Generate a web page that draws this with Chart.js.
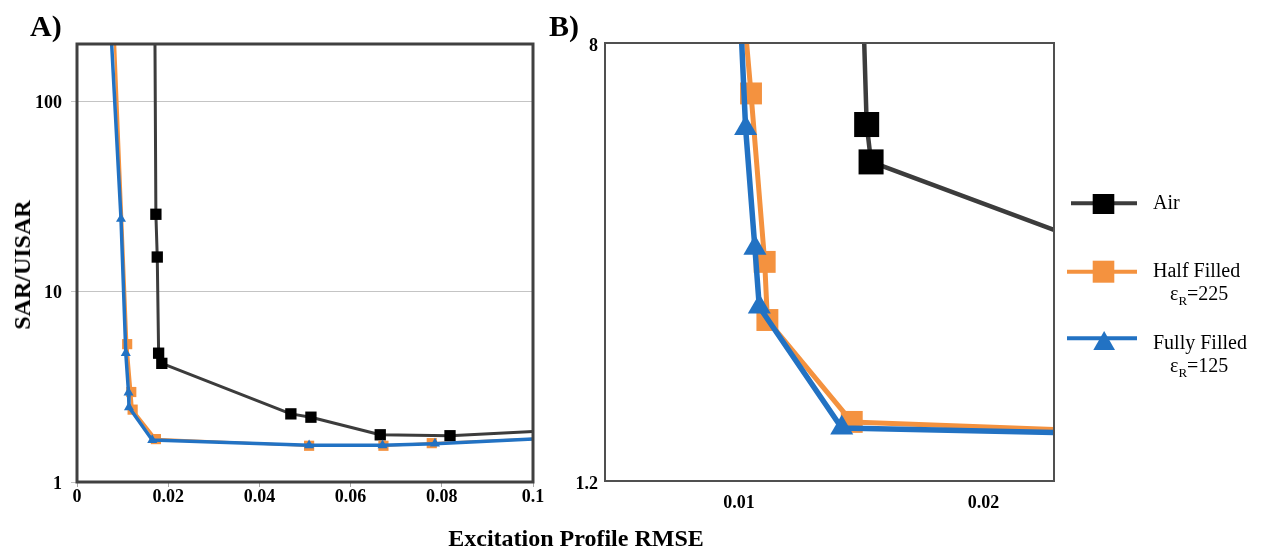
<!DOCTYPE html>
<html>
<head>
<meta charset="utf-8">
<script src="https://cdn.jsdelivr.net/npm/chart.js@4.4.0/dist/chart.umd.min.js"></script>
<style>
html,body{margin:0;padding:0;background:#fff;}
body{width:1266px;height:554px;position:relative;overflow:hidden;font-family:"Liberation Serif","Times New Roman",serif;color:#000;}
.abs{position:absolute;white-space:nowrap;line-height:1;}
.panel{font-size:30px;font-weight:bold;}
.leg{font-size:20px;line-height:20px;}
.leg sub{font-size:13px;vertical-align:baseline;position:relative;top:5px;}
canvas{position:absolute;top:0;}
</style>
</head>
<body>
<canvas id="cA" width="560" height="554" style="left:0px"></canvas>
<canvas id="cB" width="520" height="554" style="left:560px"></canvas>

<div class="abs panel" style="left:30px;top:11px;">A)</div>
<div class="abs panel" style="left:549px;top:11px;">B)</div>
<div class="abs" style="left:22px;top:265px;font-size:24px;font-weight:bold;transform:translate(-50%,-50%) rotate(-90deg);">SAR/UISAR</div>
<div class="abs" style="left:576px;top:526px;font-size:24px;font-weight:bold;transform:translateX(-50%);">Excitation Profile RMSE</div>

<svg class="abs" style="left:1064px;top:185px;" width="80" height="180" viewBox="0 0 80 180">
  <line x1="7" y1="18.3" x2="73" y2="18.3" stroke="#3c3c3c" stroke-width="4"/>
  <rect x="28.7" y="9" width="21.6" height="20" fill="#000"/>
  <line x1="3" y1="86.7" x2="73" y2="86.7" stroke="#f4923f" stroke-width="4"/>
  <rect x="28.7" y="75.7" width="21.6" height="22" fill="#f4923f"/>
  <line x1="3" y1="153.3" x2="73" y2="153.3" stroke="#2272c3" stroke-width="4"/>
  <polygon points="29.3,165 51,165 40.15,146" fill="#2272c3"/>
</svg>
<div class="abs leg" style="left:1153px;top:192px;">Air</div>
<div class="abs leg" style="left:1153px;top:260px;">Half Filled</div>
<div class="abs leg" style="left:1170px;top:283px;">ε<sub>R</sub>=225</div>
<div class="abs leg" style="left:1153px;top:332px;">Fully Filled</div>
<div class="abs leg" style="left:1170px;top:355px;">ε<sub>R</sub>=125</div>

<script>
// ---------- Panel A data (first/last point = where the line meets the frame) ----------
const airA_x  = [0.0171, 0.0173, 0.0176, 0.0179, 0.0186, 0.0469, 0.0513, 0.0665, 0.0818, 0.1];
const airA_y  = [200, 25.5, 15.2, 4.75, 4.2, 2.28, 2.19, 1.77, 1.75, 1.84];
const halfA_x = [0.00833, 0.0110, 0.0119, 0.0122, 0.0173, 0.0509, 0.0672, 0.0778, 0.1];
const halfA_y = [200, 5.3, 2.97, 2.4, 1.68, 1.55, 1.55, 1.60, 1.68];
const fullA_x = [0.0076, 0.00965, 0.0107, 0.0113, 0.0114, 0.0165, 0.0509, 0.0670, 0.0785, 0.1];
const fullA_y = [200, 24.1, 4.76, 2.95, 2.47, 1.66, 1.56, 1.56, 1.59, 1.68];
const xTicksA = [0, 0.02, 0.04, 0.06, 0.08, 0.1];
const xTickLabelsA = ['0', '0.02', '0.04', '0.06', '0.08', '0.1'];
const yTicksA = [1, 10, 100];
const yTickLabelsA = ['1', '10', '100'];

// ---------- Panel B data (zoomed view) ----------
const airB_x  = [0.01512, 0.01522, 0.01540, 0.02288];
const airB_y  = [8, 5.62, 4.78, 3.56];
const halfB_x = [0.01031, 0.01049, 0.01105, 0.01116, 0.01461, 0.02288];
const halfB_y = [8, 6.43, 3.10, 2.41, 1.55, 1.50];
const fullB_x = [0.01011, 0.01027, 0.01065, 0.01083, 0.01420, 0.02288];
const fullB_y = [8, 5.53, 3.29, 2.55, 1.51, 1.48];
const xTicksB = [0.01, 0.02];
const xTickLabelsB = ['0.01', '0.02'];
const yTicksB = [1.2, 8];
const yTickLabelsB = ['1.2', '8'];

const AIR = '#000000', AIR_LINE = '#3c3c3c', HALF = '#f4923f', FULL = '#2272c3';
const FONT = {family: '"Liberation Serif", "Times New Roman", serif', size: 18, weight: 'bold'};

function pts(xs, ys) { return xs.map((x, i) => ({x: x, y: ys[i]})); }
function ds(label, xs, ys, fill, line, width, style, r, order) {
  const n = xs.length;
  return {
    label: label, data: pts(xs, ys), borderColor: line, backgroundColor: fill,
    borderWidth: width, pointStyle: style,
    pointRadius: c => (c.dataIndex === 0 || c.dataIndex === n - 1) ? 0 : r,
    pointHoverRadius: 0, pointBackgroundColor: fill, pointBorderWidth: 0,
    tension: 0, order: order, borderJoinStyle: 'round', borderCapStyle: 'round'
  };
}
const frame = {
  id: 'frame',
  afterDatasetsDraw(chart, args, o) {
    const c = chart.ctx, a = chart.chartArea;
    c.save(); c.strokeStyle = o.color; c.lineWidth = o.width;
    c.strokeRect(a.left, a.top, a.right - a.left, a.bottom - a.top);
    c.restore();
  }
};
function setTicks(vals) { return s => { s.ticks = vals.map(v => ({value: v})); }; }

new Chart(document.getElementById('cA'), {
  type: 'line',
  data: { datasets: [
    ds('Air', airA_x, airA_y, AIR, AIR_LINE, 3, 'rect', 8, 3),
    ds('Half Filled', halfA_x, halfA_y, HALF, HALF, 2.5, 'rect', 7.2, 2),
    ds('Fully Filled', fullA_x, fullA_y, FULL, FULL, 3.5, 'triangle', 5.8, 1)
  ]},
  options: {
    responsive: false, animation: false, events: [],
    layout: {padding: {left: 0, right: 27, top: 44, bottom: 0}},
    plugins: {legend: {display: false}, tooltip: {enabled: false}, frame: {color: '#404040', width: 3}},
    scales: {
      x: { type: 'linear', min: 0, max: 0.1, afterBuildTicks: setTicks(xTicksA),
        afterFit: s => { s.height = 72; },
        ticks: {autoSkip: false, maxRotation: 0, padding: 0, color: '#000', font: FONT,
          callback: (v, i) => xTickLabelsA[i]},
        grid: {drawOnChartArea: false, drawTicks: true, tickLength: 5, color: '#a8a8a8'},
        border: {display: false} },
      y: { type: 'logarithmic', min: 1, max: 200, afterBuildTicks: setTicks(yTicksA),
        afterFit: s => { s.width = 77; },
        ticks: {autoSkip: false, padding: 9, labelOffset: 2, color: '#000', font: FONT,
          callback: (v, i) => yTickLabelsA[i]},
        grid: {color: '#c4c4c4', lineWidth: 1, drawTicks: true, tickLength: 6},
        border: {display: false} }
    }
  },
  plugins: [frame]
});

new Chart(document.getElementById('cB'), {
  type: 'line',
  data: { datasets: [
    ds('Air', airB_x, airB_y, AIR, AIR_LINE, 4.5, 'rect', 17.7, 3),
    ds('Half Filled', halfB_x, halfB_y, HALF, HALF, 5, 'rect', 15.5, 2),
    ds('Fully Filled', fullB_x, fullB_y, FULL, FULL, 5.5, 'triangle', 13.3, 1)
  ]},
  options: {
    responsive: false, animation: false, events: [],
    layout: {padding: {left: 0, right: 26, top: 43, bottom: 0}},
    plugins: {legend: {display: false}, tooltip: {enabled: false}, frame: {color: '#505050', width: 2}},
    scales: {
      x: { type: 'linear', min: 0.00452, max: 0.02288, afterBuildTicks: setTicks(xTicksB),
        afterFit: s => { s.height = 73; },
        ticks: {autoSkip: false, maxRotation: 0, padding: 12, color: '#000', font: FONT,
          callback: (v, i) => xTickLabelsB[i]},
        grid: {display: false, drawTicks: false},
        border: {display: false} },
      y: { type: 'logarithmic', min: 1.2, max: 8, afterBuildTicks: setTicks(yTicksB),
        afterFit: s => { s.width = 45; },
        ticks: {autoSkip: false, padding: 7, labelOffset: 3, color: '#000', font: FONT,
          callback: (v, i) => yTickLabelsB[i]},
        grid: {display: false, drawTicks: false},
        border: {display: false} }
    }
  },
  plugins: [frame]
});
</script>
</body>
</html>
